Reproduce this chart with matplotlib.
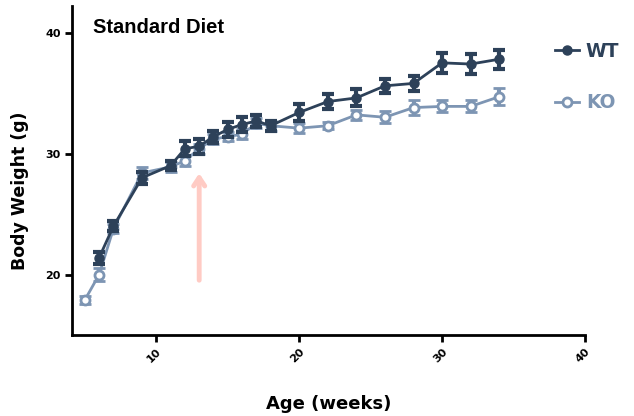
import matplotlib
matplotlib.use("Agg")
import matplotlib.pyplot as plt
from matplotlib.lines import Line2D

# ---- data ----
weeks_wt = [6, 7, 9, 11, 12, 13, 14, 15, 16, 17, 18, 20, 22, 24, 26, 28, 30, 32, 34]
wt_mean = [21.4, 24.0, 28.0, 29.0, 30.4, 30.6, 31.4, 32.0, 32.4, 32.7, 32.3, 33.4, 34.3, 34.6, 35.6, 35.8, 37.5, 37.4, 37.8]
wt_err = [0.5, 0.4, 0.5, 0.4, 0.6, 0.6, 0.5, 0.6, 0.6, 0.5, 0.4, 0.7, 0.6, 0.7, 0.6, 0.6, 0.8, 0.8, 0.8]

weeks_ko = [5, 6, 7, 9, 11, 12, 13, 14, 15, 16, 17, 18, 20, 22, 24, 26, 28, 30, 32, 34]
ko_mean = [17.9, 20.0, 23.8, 28.4, 28.9, 29.4, 30.4, 31.2, 31.4, 31.6, 32.5, 32.3, 32.1, 32.3, 33.2, 33.0, 33.8, 33.9, 33.9, 34.7]
ko_err = [0.3, 0.5, 0.4, 0.5, 0.4, 0.4, 0.4, 0.4, 0.4, 0.4, 0.4, 0.4, 0.4, 0.3, 0.4, 0.5, 0.6, 0.5, 0.5, 0.7]

x_ticks = [10, 20, 30, 40]
y_ticks = [20, 30, 40]
arrow_week = 13
arrow_from, arrow_to = 19.3, 28.6

WT_COLOR = "#2d4159"
KO_COLOR = "#7d95b3"

fig = plt.figure(figsize=(6.34, 4.16), dpi=100)
ax = fig.add_axes([0.1136, 0.1947, 0.8091, 0.7909])

ax.errorbar(weeks_ko, ko_mean, yerr=ko_err, color=KO_COLOR, lw=2, marker="o",
            ms=6.5, mfc="white", mec=KO_COLOR, mew=2, elinewidth=3,
            capsize=4, capthick=3, zorder=2)
ax.errorbar(weeks_wt, wt_mean, yerr=wt_err, color=WT_COLOR, lw=2, marker="o",
            ms=6.5, mfc=WT_COLOR, mec=WT_COLOR, elinewidth=3,
            capsize=4, capthick=3, zorder=3)

ax.annotate("", xy=(arrow_week, arrow_to), xytext=(arrow_week, arrow_from),
            arrowprops=dict(arrowstyle="->,head_width=0.4,head_length=0.6",
                            color="#ffcbc4", lw=3.5), zorder=1)

ax.set_xlim(4.1, 40)
ax.set_ylim(15, 42.2)
ax.set_xticks(x_ticks)
ax.set_yticks(y_ticks)
ax.set_xticklabels([str(t) for t in x_ticks], rotation=45, ha="right",
                   rotation_mode="anchor", fontsize=8, fontweight="bold")
ax.set_yticklabels([str(t) for t in y_ticks], fontsize=8, fontweight="bold")

for s in ["top", "right"]:
    ax.spines[s].set_visible(False)
for s in ["left", "bottom"]:
    ax.spines[s].set_linewidth(2)
ax.tick_params(width=2, length=5, pad=3)

ax.set_xlabel("Age (weeks)", fontsize=13, fontweight="bold", labelpad=22)
ax.set_ylabel("Body Weight (g)", fontsize=12.5, fontweight="bold")
ax.yaxis.set_label_coords(-0.084, 0.438)

ax.text(0.04, 0.965, "Standard Diet", transform=ax.transAxes, fontsize=14.5,
        fontweight="bold", family="Liberation Sans", va="top", ha="left")

handles = [
    Line2D([], [], color=WT_COLOR, lw=2, marker="o", ms=6.5, mfc=WT_COLOR, mec=WT_COLOR),
    Line2D([], [], color=KO_COLOR, lw=2, marker="o", ms=6.5, mfc="white", mec=KO_COLOR, mew=2),
]
ax.legend(handles, ["WT", "KO"], loc="center left",
          bbox_to_anchor=(0.9415, 0.784), frameon=False, handlelength=1.3,
          handletextpad=0.35, labelspacing=1.75, borderaxespad=0, borderpad=0,
          prop=dict(weight="bold", size=13.5), labelcolor="linecolor")

fig.savefig("out.png", dpi=100)
